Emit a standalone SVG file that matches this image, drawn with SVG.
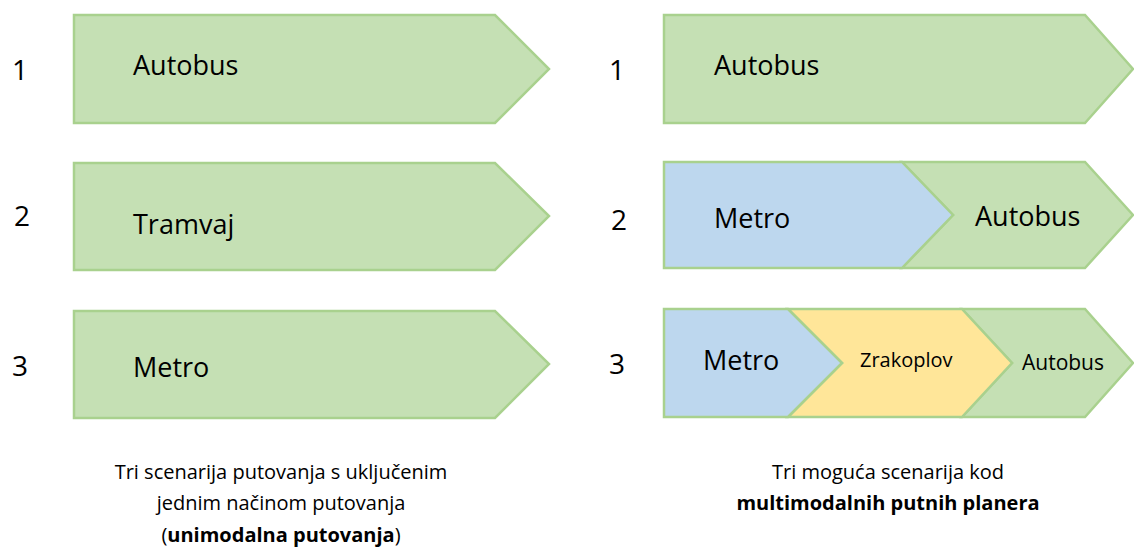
<svg xmlns="http://www.w3.org/2000/svg" width="1134" height="552" viewBox="0 0 1134 552">
<style>
.g{fill:#c5e0b4;stroke:#a9d18e;stroke-width:2.5;stroke-linejoin:miter}
.b{fill:#bdd7ee;stroke:#a9d18e;stroke-width:2.5}
.y{fill:#ffe699;stroke:#a9d18e;stroke-width:2.5}
text{font-family:"Open Sans","Noto Sans",sans-serif;fill:#000}
.n{font-size:28px}
.l{font-size:27px}
.c{font-size:20px;text-anchor:middle}
.bold{font-weight:bold}
</style>
<rect width="1134" height="552" fill="#fff"/>
<g id="left-1">
<text class="n" x="12" y="80">1</text>
<polygon class="g" points="74,15 495,15 549,69 495,123 74,123"/>
<text class="l" x="133" y="75">Autobus</text>
</g>
<g id="left-2">
<text class="n" x="14" y="226">2</text>
<polygon class="g" points="74,163 495,163 549,216 495,270 74,270"/>
<text class="l" x="133" y="234">Tramvaj</text>
</g>
<g id="left-3">
<text class="n" x="12" y="376">3</text>
<polygon class="g" points="74,311 495,311 549,364 495,418 74,418"/>
<text class="l" x="133" y="377">Metro</text>
</g>
<g id="right-1">
<text class="n" x="609" y="80">1</text>
<polygon class="g" points="664,15 1085,15 1133,69 1085,123 664,123"/>
<text class="l" x="714" y="75">Autobus</text>
</g>
<g id="right-2">
<text class="n" x="611" y="230">2</text>
<polygon class="g" points="902,162 1085,162 1133,215 1085,268 902,268 953,215"/>
<polygon class="b" points="664,162 902,162 953,215 902,268 664,268"/>
<text class="l" x="714" y="228">Metro</text>
<text class="l" x="975" y="226">Autobus</text>
</g>
<g id="right-3">
<text class="n" x="609" y="374">3</text>
<polygon class="g" points="962,309 1085,309 1133,363 1085,417 962,417 1012,363"/>
<polygon class="y" points="788,309 962,309 1012,363 962,417 788,417 842,363"/>
<polygon class="b" points="664,309 788,309 842,363 788,417 664,417"/>
<text class="l" x="703" y="370">Metro</text>
<text x="860" y="367" style="font-size:20px">Zrakoplov</text>
<text x="1022" y="370" style="font-size:21px">Autobus</text>
</g>
<g id="caption-left">
<text class="c" x="281" y="479">Tri scenarija putovanja s uključenim</text>
<text class="c" x="281" y="510">jednim načinom putovanja</text>
<text class="c" x="281" y="542">(<tspan class="bold">unimodalna putovanja</tspan>)</text>
</g>
<g id="caption-right">
<text class="c" x="888" y="479">Tri moguća scenarija kod</text>
<text class="c bold" x="888" y="510">multimodalnih putnih planera</text>
</g>
<g id="connectors"></g>
</svg>
